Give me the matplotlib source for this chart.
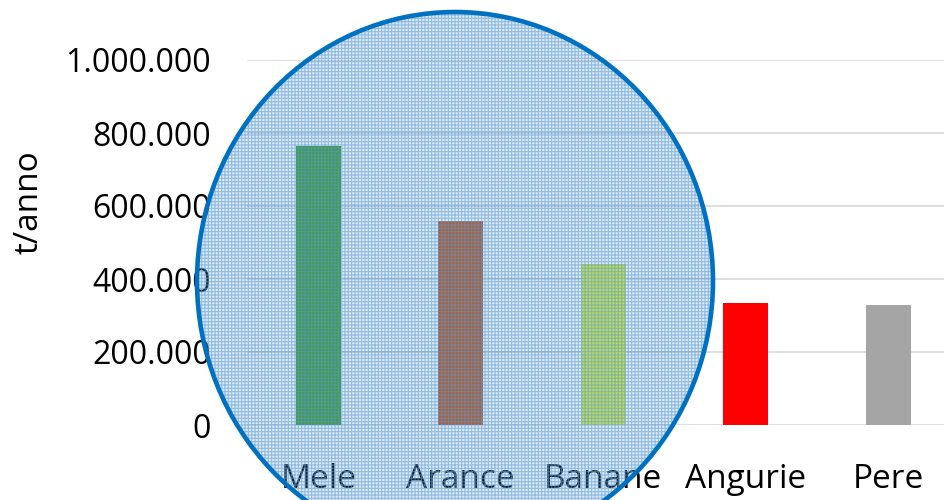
import matplotlib
matplotlib.use("Agg")
import matplotlib.pyplot as plt
from matplotlib.patches import Ellipse
from matplotlib.ticker import FuncFormatter, MultipleLocator

# ── Data ───────────────────────────────────────────────────────
frutti = ["Mele", "Arance", "Banane", "Angurie", "Pere"]
produzione = [764000, 559000, 441000, 335000, 329000]  # t/anno
colori = ["#3C9A28", "#BE5014", "#D8EC3C", "#FF0000", "#A5A5A5"]

plt.rcParams["font.family"] = ["Open Sans", "DejaVu Sans"]
plt.rcParams["hatch.linewidth"] = 0.8

fig = plt.figure(figsize=(9.45, 5), dpi=100)
ax = fig.add_axes([247 / 945, 0.15, 712.5 / 945, 0.73])

ax.bar(range(len(frutti)), produzione, width=0.316, color=colori, zorder=2)

ax.set_xlim(-0.5, len(frutti) - 0.5)
ax.set_ylim(0, 1000000)
ax.yaxis.set_major_locator(MultipleLocator(200000))
ax.yaxis.set_major_formatter(
    FuncFormatter(lambda v, _: f"{v:,.0f}".replace(",", ".")))
ax.set_xticks(range(len(frutti)))
ax.set_xticklabels(frutti)

ax.grid(axis="y", color="#D9D9D9", linewidth=1.2, zorder=0)
ax.set_axisbelow(True)
for s in ax.spines.values():
    s.set_visible(False)
ax.tick_params(axis="y", length=0, pad=26, labelsize=23)
ax.tick_params(axis="x", length=0, pad=27, labelsize=24)

fig.text(29 / 945, 1 - 202 / 500, "t/anno", rotation=90,
         ha="center", va="center", fontsize=24)

# ── Highlight ellipse over the first three bars ───────────────
centro = (455 / 945, 1 - 281 / 500)
w, h = 516 / 945, 538 / 500
blu = (91 / 255, 155 / 255, 213 / 255)
riempimento = Ellipse(centro, w, h, transform=fig.transFigure,
                      facecolor=blu + (0.2,), edgecolor=blu + (0.6,),
                      linewidth=0, hatch="+++++", zorder=5)
bordo = Ellipse(centro, w, h, transform=fig.transFigure,
                facecolor="none", edgecolor="#0070C0", linewidth=3.3,
                zorder=6)
fig.add_artist(riempimento)
fig.add_artist(bordo)

fig.savefig("out.png", dpi=100)
